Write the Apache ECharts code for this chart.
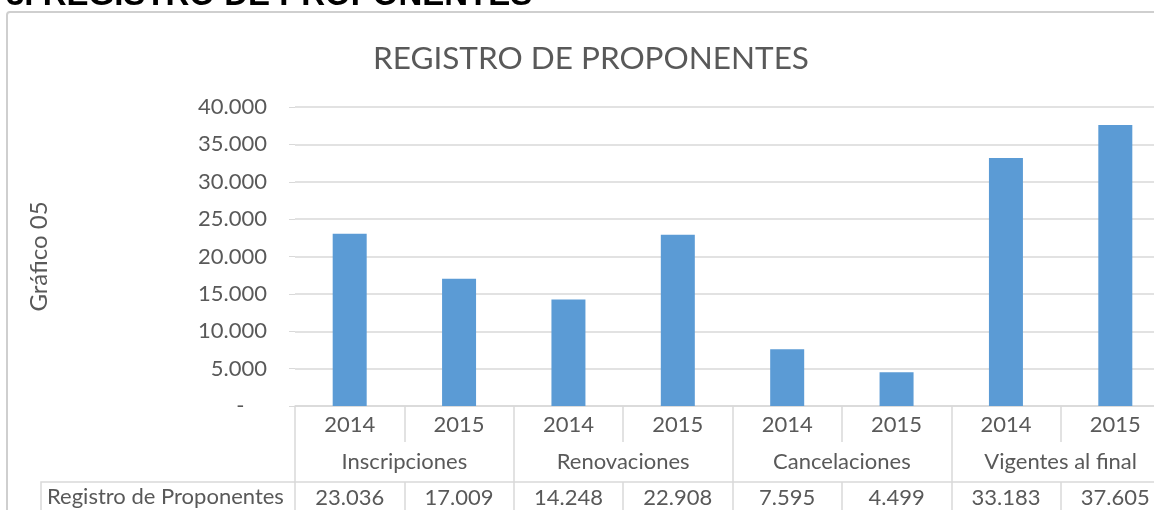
<!DOCTYPE html>
<html>
<head>
<meta charset="utf-8">
<title>Registro de Proponentes</title>
<script src="https://cdn.jsdelivr.net/npm/echarts@6/dist/echarts.min.js"></script>
<style>
  html, body { margin: 0; padding: 0; background: #fff; overflow: hidden; }
  #chart { width: 1154px; height: 510px; }
</style>
</head>
<body>
<div id="chart"></div>
<script>
'use strict';

// datos del gráfico
var years = ['2014', '2015', '2014', '2015', '2014', '2015', '2014', '2015'];
var groups = ['Inscripciones', 'Renovaciones', 'Cancelaciones', 'Vigentes al final'];
var values = [23036, 17009, 14248, 22908, 7595, 4499, 33183, 37605];
var yTicks = { min: 0, max: 40000, step: 5000 };

var FONT = 'Lato';
var GREY = '#595959';
var LINE = '#d9d9d9';

// formato con punto de miles
function miles(v) {
    return String(v).replace(/\B(?=(\d{3})+(?!\d))/g, '.');
}

var chart = echarts.init(document.getElementById('chart'));

var option = {
    animation: false,
    backgroundColor: '#fff',
    title: {
        text: 'REGISTRO DE PROPONENTES',
        left: 368,
        top: 38,
        textStyle: { fontFamily: FONT, fontSize: 31.5, fontWeight: 'normal', color: GREY }
    },
    grid: { left: 295, width: 875, top: 107, bottom: 104, containLabel: false, outerBoundsMode: 'none' },
    yAxis: {
        type: 'value',
        min: yTicks.min,
        max: yTicks.max,
        interval: yTicks.step,
        name: 'Gráfico 05',
        nameLocation: 'middle',
        nameGap: 244,
        nameRotate: 90,
        nameTextStyle: { fontFamily: FONT, fontSize: 24, color: GREY },
        axisLine: { show: false },
        axisTick: { show: true, length: 6, lineStyle: { color: LINE } },
        axisLabel: {
            margin: 28,
            fontFamily: FONT, fontSize: 22, color: GREY,
            formatter: function (v) { return v === 0 ? '-    ' : miles(v); }
        },
        splitLine: { show: true, lineStyle: { color: LINE, width: 1.5 } }
    },
    xAxis: [
        {   // años
            type: 'category',
            data: years,
            position: 'bottom',
            axisLine: { show: true, lineStyle: { color: LINE, width: 1.5 } },
            axisTick: { show: true, alignWithLabel: false, length: 36, interval: 0, lineStyle: { color: LINE, width: 1.5 } },
            axisLabel: { interval: 0, margin: 8, fontFamily: FONT, fontSize: 22, color: GREY }
        },
        {   // grupos
            type: 'category',
            data: groups,
            position: 'bottom',
            axisLine: { show: false },
            axisTick: { show: true, alignWithLabel: false, length: 110, interval: 0, lineStyle: { color: LINE, width: 1.5 } },
            axisLabel: { interval: 0, margin: 45, fontFamily: FONT, fontSize: 22, color: GREY }
        },
        {   // tabla de valores
            type: 'category',
            data: values.map(miles),
            position: 'bottom',
            offset: 76,
            axisLine: { show: true, lineStyle: { color: LINE, width: 1.5 } },
            axisTick: { show: true, alignWithLabel: false, length: 34, interval: 0, lineStyle: { color: LINE, width: 1.5 } },
            axisLabel: { interval: 0, margin: 5, fontFamily: FONT, fontSize: 22, color: GREY }
        }
    ],
    series: [
        {
            name: 'Registro de Proponentes',
            type: 'bar',
            xAxisIndex: 0,
            barWidth: 34,
            itemStyle: { color: '#5b9bd5' },
            data: values
        }
    ],
    graphic: [
        {   // marco del gráfico
            type: 'rect',
            shape: { x: 7, y: 12, width: 1200, height: 540, r: 3 },
            style: { fill: 'none', stroke: '#cfcfcf', lineWidth: 2 },
            z: -1
        },
        {   // encabezado del documento (recortado)
            type: 'text',
            x: 6, y: -4,
            style: {
                text: '3. REGISTRO DE PROPONENTES',
                font: 'bold 33px "Liberation Sans", Arial, sans-serif',
                fill: '#000', verticalAlign: 'middle'
            }
        },
        {   // celda de leyenda de la tabla
            type: 'polyline',
            shape: { points: [[295, 482], [41, 482], [41, 515]] },
            style: { fill: 'none', stroke: LINE, lineWidth: 1.5 }
        },
        {
            type: 'text',
            x: 47, y: 497,
            style: {
                text: 'Registro de Proponentes',
                font: '22px Lato', fill: GREY, verticalAlign: 'middle'
            }
        }
    ]
};

chart.setOption(option);
</script>
</body>
</html>
